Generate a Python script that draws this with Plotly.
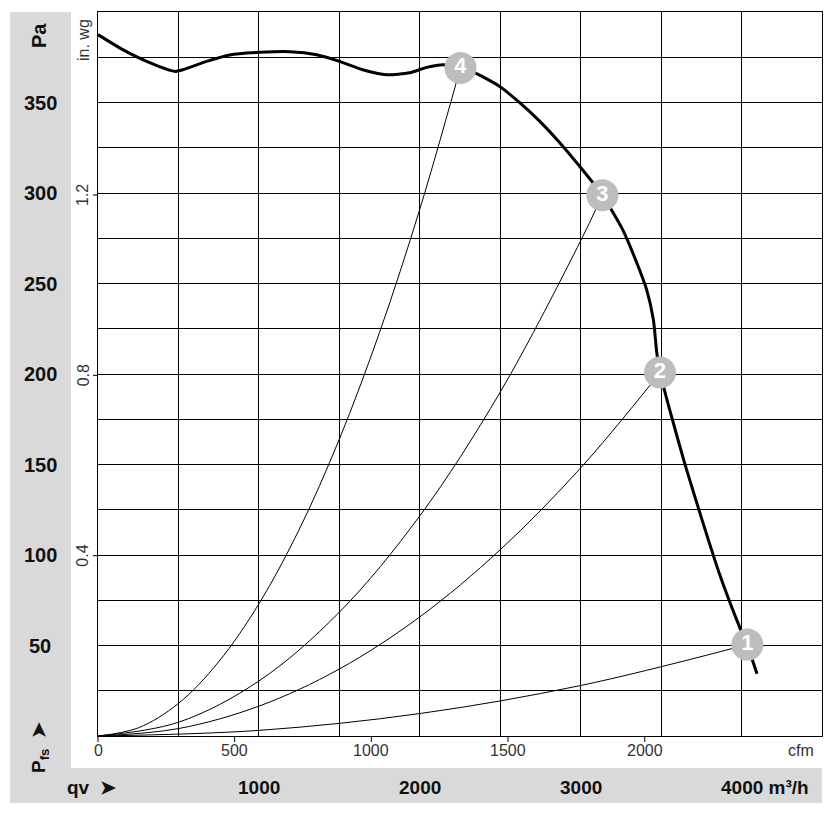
import plotly.graph_objects as go

# ---------------- data ----------------
# main fan curve (air flow m3/h, static pressure Pa)
fan_q = [0, 154, 321, 477, 526, 675, 818, 1005, 1192, 1359, 1502, 1645, 1794, 1937, 2043, 2143,
         2253, 2353, 2497, 2621, 2746, 2870, 2994, 3135, 3261, 3348, 3410, 3452, 3473, 3493,
         3553, 3647, 3752, 3864, 3989, 4034, 4096]
fan_p = [387.5, 379.2, 372.0, 367.2, 368.1, 372.7, 376.3, 377.7, 378.1, 376.4, 372.7, 368.1, 365.3, 366.4, 369.4, 370.9,
         369.1, 366.0, 358.8, 349.9, 339.6, 327.8, 314.7, 298.8, 279.8, 261.6, 246.6, 230.0, 211.8, 200.8,
         180.3, 150.5, 120.1, 89.2, 59.9, 50.5, 34.4]

# system curves (thin)
sys1_q = [0, 1000, 2000, 3000, 3980]
sys1_p = [0, 3.1, 12.4, 27.9, 49.2]
sys2_q = [0, 500, 1000, 1500, 2000, 2500, 3000, 3450]
sys2_p = [0, 4.1, 16.5, 37.0, 65.8, 102.9, 148.1, 195.9]
sys3_q = [0, 500, 1000, 1500, 2000, 2500, 3000, 3110]
sys3_p = [0, 7.6, 30.4, 68.4, 121.6, 190.0, 273.6, 294.0]
sys4_q = [0, 250, 500, 750, 1000, 1250, 1500, 1750, 2000, 2230]
sys4_p = [0, 4.5, 18.0, 41.0, 73.0, 114.0, 164.0, 223.0, 291.0, 362.0]

# operating points
op_q = [4036, 3493, 3135, 2253]
op_p = [50.5, 200.8, 298.8, 369.1]
op_lbl = ["1", "2", "3", "4"]

pa_ticks = [50, 100, 150, 200, 250, 300, 350]
inwg_ticks = [0.4, 0.8, 1.2]
cfm_ticks = [0, 500, 1000, 1500, 2000]
m3h_ticks = [1000, 2000, 3000]
m3h_last = 4000

X_MAX = 4500
Y_MAX = 400
PA_PER_INWG = 249.089
M3H_PER_CFM = 1.69901

# ---------------- figure ----------------
W, H = 839, 831
ML, MR, MT, MB = 98, 17, 12, 95
PW = W - ML - MR
PH = H - MT - MB


def pxx(xp):
    return (xp - ML) / PW


def pxy(yp):
    return (H - MB - yp) / PH


FONT = "Liberation Sans, Arial, sans-serif"
GREY_BAND = "#d9d9d9"

fig = go.Figure()

for q, p in [(sys1_q, sys1_p), (sys2_q, sys2_p), (sys3_q, sys3_p), (sys4_q, sys4_p)]:
    fig.add_trace(go.Scatter(x=q, y=p, mode="lines", line=dict(color="black", width=1, shape="spline"),
                             hoverinfo="skip", showlegend=False, cliponaxis=False))

fig.add_trace(go.Scatter(x=fan_q, y=fan_p, mode="lines",
                         line=dict(color="black", width=3, shape="spline", smoothing=0.6),
                         showlegend=False, cliponaxis=False))

fig.add_trace(go.Scatter(x=op_q, y=op_p, mode="markers+text", text=op_lbl,
                         textposition="middle center",
                         textfont=dict(family=FONT, size=22, color="white", weight="bold"),
                         marker=dict(size=32, color="#bdbdbd", line=dict(width=0)),
                         showlegend=False, cliponaxis=False))

shapes = []
# grey bands
shapes.append(dict(type="rect", xref="paper", yref="paper", layer="below",
                   x0=pxx(10), x1=pxx(71), y0=pxy(803), y1=pxy(12),
                   fillcolor=GREY_BAND, line=dict(width=0)))
shapes.append(dict(type="rect", xref="paper", yref="paper", layer="below",
                   x0=pxx(10), x1=pxx(822), y0=pxy(803), y1=pxy(768),
                   fillcolor=GREY_BAND, line=dict(width=0)))
# in. wg ticks
for v in inwg_ticks:
    yy = v * PA_PER_INWG / Y_MAX
    shapes.append(dict(type="line", xref="paper", yref="paper", x0=pxx(93), x1=pxx(98),
                       y0=yy, y1=yy, line=dict(color="black", width=1)))
# cfm ticks
for v in cfm_ticks:
    xx = v * M3H_PER_CFM / X_MAX
    shapes.append(dict(type="line", xref="paper", yref="paper", x0=xx, x1=xx,
                       y0=pxy(736), y1=pxy(742), line=dict(color="black", width=1)))

ann = []
# Pa labels
for v in pa_ticks:
    ann.append(dict(text=str(v), xref="paper", yref="paper", x=pxx(40.5), y=v / Y_MAX,
                    showarrow=False, xanchor="center", yanchor="middle",
                    font=dict(family=FONT, size=20, color="#111", weight="bold")))
ann.append(dict(text="Pa", xref="paper", yref="paper", x=pxx(39), y=pxy(36), textangle=-90,
                showarrow=False, xanchor="center", yanchor="middle",
                font=dict(family=FONT, size=20, color="#111", weight="bold")))
ann.append(dict(text="P<sub>fs</sub>  ➤", xref="paper", yref="paper", x=pxx(40), y=pxy(748), textangle=-90,
                showarrow=False, xanchor="center", yanchor="middle",
                font=dict(family=FONT, size=19, color="#111", weight="bold")))
# in. wg labels
for v in inwg_ticks:
    ann.append(dict(text=str(v), xref="paper", yref="paper", x=pxx(83), y=v * PA_PER_INWG / Y_MAX,
                    textangle=-90, showarrow=False, xanchor="center", yanchor="middle",
                    font=dict(family=FONT, size=16, color="#333")))
ann.append(dict(text="in. wg", xref="paper", yref="paper", x=pxx(83), y=pxy(40), textangle=-90,
                showarrow=False, xanchor="center", yanchor="middle",
                font=dict(family=FONT, size=16, color="#333")))
# cfm labels
for v in cfm_ticks:
    ann.append(dict(text=str(v), xref="paper", yref="paper", x=v * M3H_PER_CFM / X_MAX, y=pxy(750),
                    showarrow=False, xanchor="center", yanchor="middle",
                    font=dict(family=FONT, size=16, color="#333")))
ann.append(dict(text="cfm", xref="paper", yref="paper", x=pxx(801), y=pxy(750),
                showarrow=False, xanchor="center", yanchor="middle",
                font=dict(family=FONT, size=16, color="#333")))
# m3/h labels
for v in m3h_ticks:
    ann.append(dict(text=str(v), xref="paper", yref="paper", x=v / X_MAX, y=pxy(787),
                    showarrow=False, xanchor="center", yanchor="middle",
                    font=dict(family=FONT, size=19, color="#111", weight="bold")))
ann.append(dict(text=f"{m3h_last} m³/h", xref="paper", yref="paper", x=pxx(719), y=pxy(787),
                showarrow=False, xanchor="left", yanchor="middle",
                font=dict(family=FONT, size=19, color="#111", weight="bold")))
ann.append(dict(text="qv  ➤", xref="paper", yref="paper", x=pxx(65), y=pxy(787),
                showarrow=False, xanchor="left", yanchor="middle",
                font=dict(family=FONT, size=19, color="#111", weight="bold")))

fig.update_layout(
    width=W, height=H,
    margin=dict(l=ML, r=MR, t=MT, b=MB),
    paper_bgcolor="white", plot_bgcolor="white",
    shapes=shapes, annotations=ann,
    xaxis=dict(range=[0, X_MAX], dtick=500, tick0=0, showgrid=True, gridcolor="black", gridwidth=1,
               showticklabels=False, ticks="", zeroline=False, showline=True, linecolor="black",
               linewidth=1, mirror=True, fixedrange=True),
    yaxis=dict(range=[0, Y_MAX], dtick=25, tick0=0, showgrid=True, gridcolor="black", gridwidth=1,
               showticklabels=False, ticks="", zeroline=False, showline=True, linecolor="black",
               linewidth=1, mirror=True, fixedrange=True),
    showlegend=False,
)

fig.write_html("out.html")
